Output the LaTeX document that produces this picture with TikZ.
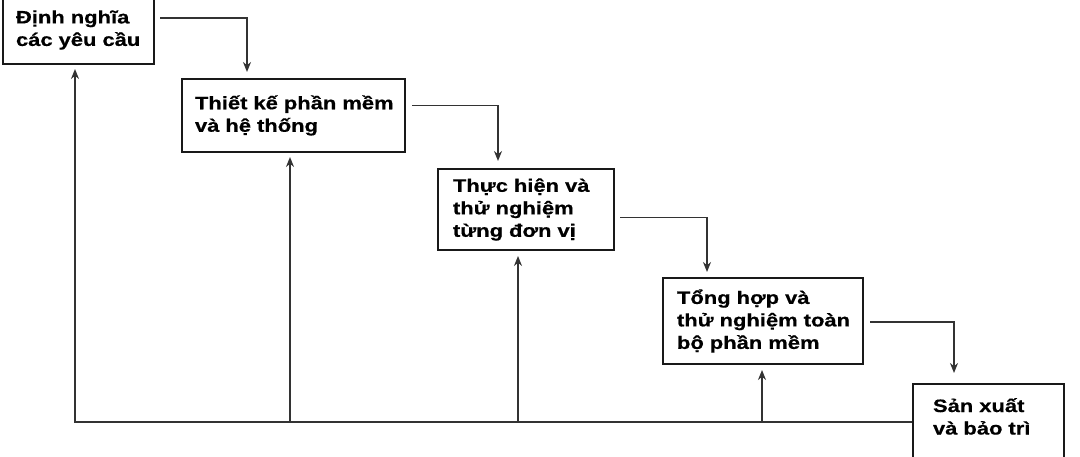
\documentclass[tikz,border=0pt]{standalone}
\usepackage{fontspec}
\setmainfont{Liberation Sans}[FakeStretch=1.22, BoldFeatures={FakeBold=0.6}]
\usetikzlibrary{arrows.meta}
\begin{document}
\begin{tikzpicture}[x=1pt, y=-1pt,
	stage/.style={draw=black!90, line width=2pt, anchor=north west, align=left, inner ysep=0pt,
		font=\bfseries\fontsize{18}{22.5}\selectfont},
	flow/.style={draw=black!80, line width=1.8pt, -{Stealth[length=10pt, width=8pt]}}]
	\useasboundingbox (0,0) rectangle (1080,457);
	\node[stage, inner xsep=13pt, text width=125pt, minimum height=68pt] (dinhnghia) at (2,-5) {Định~nghĩa\\các~yêu~cầu};
	\node[stage, inner xsep=13pt, text width=197pt, minimum height=73pt] (thietke) at (181,78) {Thiết~kế~phần~mềm\\và~hệ~thống};
	\node[stage, inner xsep=15pt, text width=146pt, minimum height=81pt] (thuchien) at (437,168) {Thực~hiện~và\\thử~nghiệm\\từng~đơn~vị};
	\node[stage, inner xsep=14pt, text width=172pt, minimum height=86pt] (tonghop) at (662,277) {Tổng~hợp~và\\thử~nghiệm~toàn\\bộ~phần~mềm};
	\node[stage, inner xsep=20pt, text width=111pt, minimum height=94pt] (sanxuat) at (912,383) {Sản~xuất\\và~bảo~trì\\\strut};
	
	\draw[flow] ([shift={(5,-12)}]dinhnghia.east) -| ([shift={(66,-6)}]thietke.north west);
	\draw[flow] ([shift={(6,-10)}]thietke.east) -| ([shift={(61,-7)}]thuchien.north west);
	\draw[flow] ([shift={(5,8)}]thuchien.east) -| ([shift={(45,-5)}]tonghop.north west);
	\draw[flow] ([shift={(6,1)}]tonghop.east) -| ([shift={(42,-10)}]sanxuat.north west);
	
	\coordinate (ret) at ([shift={(0,-9)}]sanxuat.west);
	\coordinate (in1) at ([shift={(73,4)}]dinhnghia.south west);
	\coordinate (in2) at ([shift={(109,4)}]thietke.south west);
	\coordinate (in3) at ([shift={(81,5)}]thuchien.south west);
	\coordinate (in4) at ([shift={(100,5)}]tonghop.south west);
	\draw[flow] (ret) -| (in1);
	\foreach \t in {in2, in3, in4}
		\draw[flow] (ret -| \t) -- (\t);
\end{tikzpicture}
\end{document}
